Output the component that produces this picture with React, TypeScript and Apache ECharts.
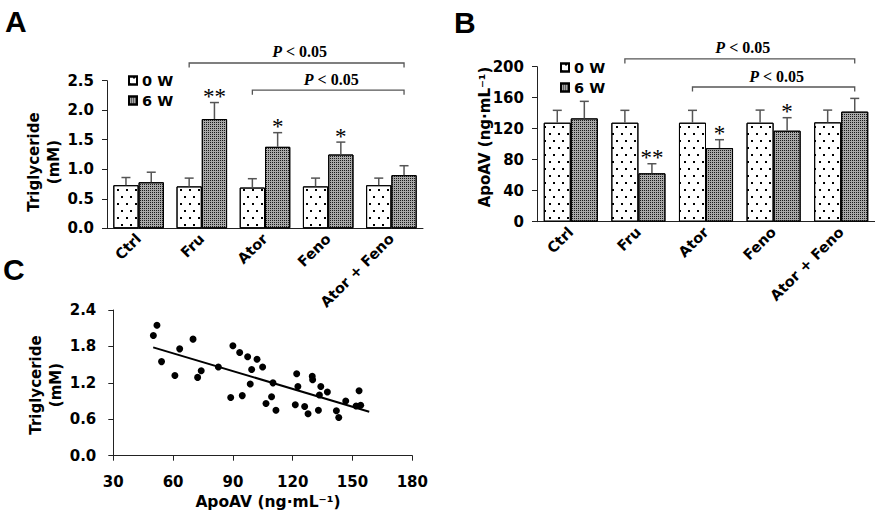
import React, { useEffect, useRef } from 'react';
import * as echarts from 'echarts';

// ---------- data ----------
const groups = ['Ctrl', 'Fru', 'Ator', 'Feno', 'Ator + Feno'];
const seriesNames = ['0 W', '6 W'];

// Panel A: triglyceride (mM)
const tgW0 = [0.73, 0.71, 0.69, 0.71, 0.73];
const tgW0Upper = [0.86, 0.85, 0.84, 0.85, 0.85];
const tgW6 = [0.78, 1.85, 1.38, 1.25, 0.9];
const tgW6Upper = [0.95, 2.13, 1.62, 1.46, 1.06];
const tgStars = ['', '**', '*', '*', ''];
// [from group, to group, level]
const tgBrackets = [
  [1, 4, 2.8],
  [2, 4, 2.34],
];

// Panel B: ApoAV (ng/mL)
const apoW0 = [127.7, 127.7, 127.7, 127.7, 128.2];
const apoW0Upper = [143.7, 143.7, 143.7, 144, 144];
const apoW6 = [133.3, 62.4, 95, 117.4, 142];
const apoW6Upper = [155.3, 74.8, 105.8, 134.2, 159.1];
const apoStars = ['', '**', '*', '*', ''];
const apoBrackets = [
  [1, 4, 210],
  [2, 4, 173.8],
];

// Panel C: ApoAV vs triglyceride scatter
const scatterApo = [
  50.1, 51.9, 54.2, 60.9, 63.3, 70.0, 72.3, 74.1, 82.7, 88.9, 90.0, 93.4, 94.7,
  97.4, 98.7, 99.4, 102.1, 104.9, 106.6, 109.4, 110.1, 111.6, 121.3, 122.0, 122.6,
  126.0, 127.7, 129.8, 130.0, 132.9, 133.4, 134.1, 137.4, 141.9, 143.1, 146.6,
  151.8, 153.3, 154.1,
];
const scatterTg = [
  1.98, 2.15, 1.55, 1.32, 1.76, 1.92, 1.29, 1.4, 1.46, 0.96, 1.81, 1.7, 0.99,
  1.63, 1.18, 1.42, 1.59, 1.46, 0.86, 0.97, 1.2, 0.75, 0.84, 1.35, 1.14,
  0.81, 0.69, 1.31, 1.25, 0.75, 1.0, 1.14, 1.05, 0.74, 0.63, 0.9,
  0.82, 1.07, 0.83,
];
const fitLine = [
  [50, 1.785],
  [158.4, 0.725],
];

const tgTicks = { min: 0, max: 2.5, interval: 0.5 };
const apoTicks = { min: 0, max: 200, interval: 40 };
const cXTicks = { min: 30, max: 180, interval: 30 };
const cYTicks = { min: 0, max: 2.4, interval: 0.6 };

// ---------- styles ----------
const SANS = 'DejaVu Sans';
const AXIS = '#222';
const labelStyle = { color: '#000', fontFamily: SANS, fontWeight: 'bold' as const, fontSize: 14 };

const dotDecal = {
  symbol: 'rect',
  symbolSize: 1,
  color: '#000',
  dashArrayX: [
    [1.5, 6.5],
    [0, 4, 1.5, 2.5],
  ],
  dashArrayY: [1.5, 5],
};
const hatchDecal = {
  symbol: 'rect',
  symbolSize: 1,
  color: '#1a1a1a',
  dashArrayX: [1, 1],
  dashArrayY: [1, 1],
};

function errorSeries(xi: number, yi: number, vals: number[], upper: number[], side: number, stars?: string[]) {
  return {
    type: 'custom',
    xAxisIndex: xi,
    yAxisIndex: yi,
    silent: true,
    clip: false,
    z: 5,
    data: vals.map((v, i) => [i, v, upper[i]]),
    renderItem: (params: any, api: any) => {
      const catW = api.size([1, 0])[0];
      const barW = catW * 0.4;
      const top = api.coord([api.value(0), api.value(1)]);
      const up = api.coord([api.value(0), api.value(2)]);
      const x = top[0] + (side * barW) / 2;
      const children: any[] = [
        {
          type: 'line',
          shape: { x1: x, y1: top[1], x2: x, y2: up[1] },
          style: { stroke: '#555', lineWidth: 1.5 },
        },
        {
          type: 'line',
          shape: { x1: x - 4.5, y1: up[1], x2: x + 4.5, y2: up[1] },
          style: { stroke: '#555', lineWidth: 1.5 },
        },
      ];
      const s = stars ? stars[params.dataIndex] : '';
      if (s) {
        children.push({
          type: 'text',
          x: x,
          y: up[1] - 6,
          style: {
            text: s,
            align: 'center',
            verticalAlign: 'middle',
            fontFamily: 'Liberation Serif',
            fontSize: 23,
            fill: '#000',
          },
        });
      }
      return { type: 'group', children };
    },
  };
}

function bracketSeries(xi: number, yi: number, brackets: number[][]) {
  return {
    type: 'custom',
    xAxisIndex: xi,
    yAxisIndex: yi,
    silent: true,
    clip: false,
    z: 5,
    data: brackets,
    renderItem: (params: any, api: any) => {
      const catW = api.size([1, 0])[0];
      const off = catW * 0.2;
      const p1 = api.coord([api.value(0), api.value(2)]);
      const p2 = api.coord([api.value(1), api.value(2)]);
      const x1 = p1[0] - off;
      const x2 = p2[0] + off;
      const y = p1[1];
      return {
        type: 'group',
        children: [
          {
            type: 'polyline',
            shape: { points: [[x1, y + 4.5], [x1, y], [x2, y], [x2, y + 4.5]] },
            style: { stroke: '#555', lineWidth: 1.3, fill: null },
          },
          {
            type: 'text',
            x: (x1 + x2) / 2 + 3,
            y: y - 3,
            style: {
              text: '{i|P} < 0.05',
              align: 'center',
              verticalAlign: 'bottom',
              fontFamily: 'Liberation Serif',
              fontWeight: 'bold',
              fontSize: 16,
              fill: '#000',
              rich: {
                i: { fontFamily: 'Liberation Serif', fontWeight: 'bold', fontStyle: 'italic', fontSize: 16, fill: '#000' },
              },
            },
          },
        ],
      };
    },
  };
}

function barSeries(name: string, xi: number, yi: number, data: number[], w0: boolean) {
  return {
    type: 'bar',
    name,
    xAxisIndex: xi,
    yAxisIndex: yi,
    barCategoryGap: '20%',
    barGap: '0%',
    data,
    itemStyle: w0
      ? { color: '#fff', borderColor: '#000', borderWidth: 1, decal: dotDecal }
      : { color: '#a8a8a8', borderColor: '#000', borderWidth: 1, decal: hatchDecal },
  };
}

const catAxis = (gi: number) => ({
  type: 'category',
  gridIndex: gi,
  data: groups,
  axisLine: { lineStyle: { color: AXIS, width: 1 } },
  axisTick: { show: false },
  axisLabel: { ...labelStyle, fontSize: 14.5, rotate: 45, margin: 8, interval: 0 },
});

const valAxis = (gi: number, t: any, fmt?: (v: number) => string) => ({
  type: 'value',
  gridIndex: gi,
  min: t.min,
  max: t.max,
  interval: t.interval,
  splitLine: { show: false },
  axisLine: { show: true, lineStyle: { color: AXIS, width: 1 } },
  axisTick: { show: true, length: 5, lineStyle: { color: AXIS } },
  axisLabel: { ...labelStyle, fontSize: 15, margin: 13, formatter: fmt },
});

const fixed1 = (v: number) => v.toFixed(1);

export default function App() {
  const ref = useRef<HTMLDivElement>(null);
  useEffect(() => {
    if (!ref.current) return;
    const chart = echarts.init(ref.current, null, { renderer: 'svg' });
    const titleFont = { fontFamily: SANS, fontWeight: 'bold', fontSize: 15, fill: '#000' };
    const panelFont = { fontFamily: 'Liberation Sans', fontWeight: 'bold', fontSize: 30, fill: '#000' };
    const legendBase = {
      data: seriesNames,
      orient: 'vertical',
      icon: 'rect',
      itemWidth: 8,
      itemHeight: 8,
      itemGap: 5,
      selectedMode: false,
      textStyle: { ...labelStyle, fontSize: 14.5 },
    };
    chart.setOption({
      animation: false,
      backgroundColor: '#fff',
      grid: [
        { left: 107, top: 80.7, width: 316, height: 147.6 },
        { left: 537, top: 66.7, width: 338, height: 155 },
        { left: 113.3, top: 310, width: 299, height: 145.7 },
      ],
      legend: [
        { ...legendBase, left: 123, top: 68 },
        { ...legendBase, left: 555, top: 55 },
      ],
      xAxis: [
        catAxis(0),
        catAxis(1),
        {
          type: 'value',
          gridIndex: 2,
          min: cXTicks.min,
          max: cXTicks.max,
          interval: cXTicks.interval,
          splitLine: { show: false },
          axisLine: { lineStyle: { color: AXIS } },
          axisTick: { length: 5, lineStyle: { color: AXIS } },
          axisLabel: { ...labelStyle, fontSize: 15, margin: 19 },
        },
      ],
      yAxis: [
        valAxis(0, tgTicks, fixed1),
        valAxis(1, apoTicks),
        { ...valAxis(2, cYTicks, fixed1), axisLabel: { ...labelStyle, fontSize: 15, margin: 17, formatter: fixed1 } },
      ],
      series: [
        barSeries(seriesNames[0], 0, 0, tgW0, true),
        barSeries(seriesNames[1], 0, 0, tgW6, false),
        errorSeries(0, 0, tgW0, tgW0Upper, -1),
        errorSeries(0, 0, tgW6, tgW6Upper, 1, tgStars),
        bracketSeries(0, 0, tgBrackets),
        barSeries(seriesNames[0], 1, 1, apoW0, true),
        barSeries(seriesNames[1], 1, 1, apoW6, false),
        errorSeries(1, 1, apoW0, apoW0Upper, -1),
        errorSeries(1, 1, apoW6, apoW6Upper, 1, apoStars),
        bracketSeries(1, 1, apoBrackets),
        {
          type: 'scatter',
          xAxisIndex: 2,
          yAxisIndex: 2,
          symbolSize: 7,
          itemStyle: { color: '#000', opacity: 1 },
          data: scatterApo.map((x, i) => [x, scatterTg[i]]),
        },
        {
          type: 'line',
          xAxisIndex: 2,
          yAxisIndex: 2,
          symbol: 'none',
          lineStyle: { color: '#000', width: 2 },
          data: fitLine,
        },
      ],
      graphic: [
        { type: 'text', left: 5, top: 6, style: { text: 'A', ...panelFont } },
        { type: 'text', left: 454, top: 7, style: { text: 'B', ...panelFont } },
        { type: 'text', left: 3, top: 254, style: { text: 'C', ...panelFont } },
        {
          type: 'text',
          x: 44,
          y: 162,
          rotation: Math.PI / 2,
          style: { text: 'Triglyceride\n(mM)', align: 'center', verticalAlign: 'middle', lineHeight: 20, ...titleFont },
        },
        {
          type: 'text',
          x: 485,
          y: 137,
          rotation: Math.PI / 2,
          style: { text: 'ApoAV (ng·mL⁻¹)', align: 'center', verticalAlign: 'middle', ...titleFont },
        },
        {
          type: 'text',
          x: 46,
          y: 385,
          rotation: Math.PI / 2,
          style: { text: 'Triglyceride\n(mM)', align: 'center', verticalAlign: 'middle', lineHeight: 20, ...titleFont },
        },
        {
          type: 'text',
          x: 268,
          y: 502,
          style: { text: 'ApoAV (ng·mL⁻¹)', align: 'center', verticalAlign: 'middle', ...titleFont, fontSize: 15.5 },
        },
      ],
    });
    return () => chart.dispose();
  }, []);
  return <div ref={ref} style={{ position: 'fixed', left: 0, top: 0, width: 875, height: 516 }} />;
}
